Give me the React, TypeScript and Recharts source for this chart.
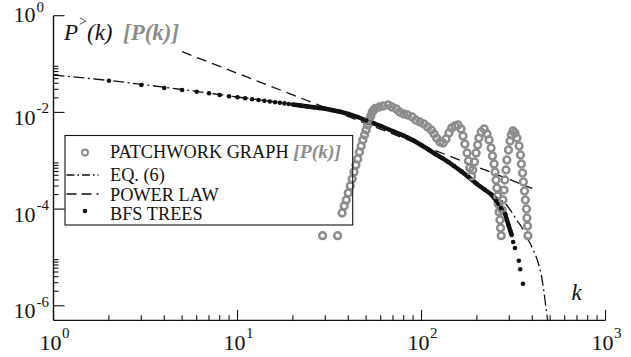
import React from 'react'
import { ComposedChart, Line, Scatter, XAxis, YAxis } from 'recharts'

// patchwork graph, P(k) (grey open circles)
const patchK = [29, 35, 37, 38, 39, 40, 41, 42, 43, 44, 45, 46, 47, 48, 49, 50, 51, 52, 53, 54, 55, 56,
  59, 62, 66, 69, 73, 76, 80, 84, 89, 93, 98, 103, 108, 113, 117, 121, 126, 131, 136, 141, 146, 152, 158,
  164, 168, 172, 177, 180, 183, 187, 190, 194, 198, 202, 205, 211, 219,
  227, 233, 239, 243, 248, 251, 254, 257, 259, 261, 264, 267, 269, 271,
  274, 277, 281, 284, 288, 291, 297, 303, 308, 314,
  322, 330, 339, 345, 349, 354, 358, 363, 367, 372, 374, 377, 379]
const patchP = [2.82e-5, 2.82e-5, 8.3e-5, 1.159e-4, 1.542e-4, 2.153e-4, 3.004e-4, 4.195e-4, 5.855e-4, 8.17e-4,
  1.087e-3, 1.517e-3, 2.019e-3, 2.687e-3, 3.408e-3, 4.325e-3, 5.49e-3, 6.966e-3, 8.42e-3, 0.01019, 0.01121, 0.01204,
  0.01294, 0.01356, 0.01422, 0.01294, 0.01176, 0.01019, 0.00927, 0.00884, 0.00803, 0.00697, 0.00633, 0.00576,
  0.00499, 0.00433, 0.00358, 0.00295, 0.00244, 0.00233, 0.00282, 0.00375, 0.00476, 0.00523, 0.00549,
  0.00454, 0.00325, 0.00222, 0.001446, 0.000988, 0.000708, 0.000484, 0.000644, 0.000942, 0.001446, 0.002117,
  0.00295, 0.00393, 0.00454,
  0.00358, 0.00269, 0.001835, 0.001254, 0.000857, 0.000585, 0.0004, 0.000273, 0.000187, 0.0001275, 0.0000871,
  0.0000595, 0.0000406, 0.0000282,
  0.0000958, 0.0001542, 0.000248, 0.0004, 0.000644, 0.001036, 0.001669, 0.002561, 0.00341, 0.00412,
  0.00375, 0.00295, 0.002018, 0.001315, 0.000857, 0.000558, 0.000364, 0.000237, 0.0001542, 0.0001005,
  0.0000654, 0.0000447, 0.0000282]

// BFS trees, cumulative P>(k)
const bfsK = [2, 3, 4, 5, 6, 7, 8, 9, 10, 11, 12, 13, 14, 15, 16, 17, 18, 19, 20, 22, 24, 26, 28, 30, 33, 36,
  40, 45, 50, 55, 60, 70, 80, 90, 100, 110, 120, 130, 140, 150, 165, 180, 200, 220, 240, 255, 270, 285, 291,
  297, 303, 309, 315, 322, 338, 344, 356]
const bfsP = [0.04523, 0.03686, 0.03196, 0.02906, 0.0268, 0.02483, 0.02291, 0.02153, 0.02052, 0.01957, 0.01875,
  0.01805, 0.01738, 0.01681, 0.01626, 0.0158, 0.01535, 0.01492, 0.01457, 0.01389, 0.0133, 0.01281, 0.01233,
  0.01187, 0.0111, 0.01034, 0.00927, 0.00803, 0.0068, 0.00595, 0.00523, 0.00408, 0.0033, 0.00266, 0.00209,
  0.00167, 0.001347, 0.001129, 0.000942, 0.000779, 0.000599, 0.000461, 0.00033, 0.000254, 0.0002, 0.000147,
  0.0001054, 0.0000792, 0.0000595, 0.0000469, 0.00003695, 0.00002912, 0.00002087, 0.00001568, 0.00000857,
  0.00000569, 0.00000286]

// Eq. (6)
const eqK = [1, 2, 5, 10, 20, 30, 50, 70, 100, 150, 200, 250, 290, 309, 329, 350, 373, 405, 431, 450, 469, 479, 485]
const eqP = [0.0594, 0.04568, 0.02976, 0.02082, 0.01471, 0.01187, 0.0068, 0.00412, 0.002117, 0.000797, 0.000347,
  0.000187, 0.0001216, 0.0000871, 0.0000595, 0.0000426, 0.0000265, 0.00001426, 0.00000768, 0.00000394,
  0.000001318, 0.00000071, 0.0000005]

// power law
const plK = [5, 400]
const plP = [0.18, 0.000268]

const xTicks = [1, 2, 3, 4, 5, 6, 7, 8, 9, 10, 20, 30, 40, 50, 60, 70, 80, 90, 100,
  200, 300, 400, 500, 600, 700, 800, 900, 1000]
const yTicks = [1, 0.09, 0.08, 0.07, 0.06, 0.05, 0.04, 0.03, 0.02, 0.01,
  0.0009, 0.0008, 0.0007, 0.0006, 0.0005, 0.0004, 0.0003, 0.0002, 0.0001,
  0.000009, 0.000008, 0.000007, 0.000006, 0.000005, 0.000004, 0.000003, 0.000002, 0.000001]

const toRows = (ks: number[], ps: number[]) => ks.map((k, i) => ({ k, p: ps[i] }))

const patchData = toRows(patchK, patchP)
const bfsData = toRows(bfsK, bfsP)
const bfsDense = bfsData.filter((d) => d.k >= 20 && d.k <= 309)
const eqData = toRows(eqK, eqP)
const plData = toRows(plK, plP)

const FONT = '"Liberation Serif", "Times New Roman", serif'
const GREY = '#8c8c8c'
const INK = '#111'

const isMajor = (v: number) => {
  const l = Math.log10(v)
  return Math.abs(l - Math.round(l)) < 1e-6
}

const XTick = (props: any) => {
  const { x, y, payload } = props
  const major = isMajor(payload.value)
  const e = Math.round(Math.log10(payload.value))
  return (
    <g>
      <line x1={x} x2={x} y1={y} y2={y - (major ? 10.5 : 5)} stroke={INK} strokeWidth={1.1} />
      {major && (
        <g style={{ fontFamily: FONT }} fill={INK}>
          <text x={x - 3} y={y + 29.5} fontSize={22} textAnchor="middle">10</text>
          <text x={x + 8.5} y={y + 18} fontSize={15}>{e}</text>
        </g>
      )}
    </g>
  )
}

const YTick = (props: any) => {
  const { x, y, payload } = props
  const major = isMajor(payload.value)
  const e = Math.round(Math.log10(payload.value))
  const top = e === 0
  return (
    <g>
      <line x1={x} x2={x + (major ? 11 : 5)} y1={y} y2={y} stroke={INK} strokeWidth={1.1} />
      {major && e % 2 === 0 && (
        <g style={{ fontFamily: FONT }} fill={INK}>
          <text x={x - 18} y={y + (top ? 6 : 12.5)} fontSize={22} textAnchor="end">10</text>
          <text x={x - 17} y={y + (top ? -3.5 : 1)} fontSize={15}>{e === 0 ? '0' : `-${Math.abs(e)}`}</text>
        </g>
      )}
    </g>
  )
}

const OpenCircle = (props: any) => (
  <circle cx={props.cx} cy={props.cy} r={3.4} fill="none" stroke={GREY} strokeWidth={2.5} />
)

const Dot = (props: any) => <circle cx={props.cx} cy={props.cy} r={2.3} fill={INK} />

const EQ_DASH = '11 3.5 2 3.5'
const PL_DASH = '10 6'

export default function App() {
  return (
    <div style={{ position: 'absolute', left: 0, top: 0, width: 631, height: 357, background: '#fff' }}>
      <ComposedChart width={631} height={357} margin={{ top: 15.7, right: 25.5, bottom: 6.65, left: 13.5 }}>
        <XAxis
          dataKey="k"
          type="number"
          scale="log"
          domain={[1, 1000]}
          allowDataOverflow
          ticks={xTicks}
          interval={0}
          tick={<XTick />}
          tickLine={false}
          tickSize={0}
          tickMargin={0}
          height={30}
          axisLine={{ stroke: INK, strokeWidth: 1.4 }}
        />
        <YAxis
          dataKey="p"
          type="number"
          scale="log"
          domain={[5e-7, 1]}
          allowDataOverflow
          ticks={yTicks}
          interval={0}
          tick={<YTick />}
          tickLine={false}
          tickSize={0}
          tickMargin={0}
          width={40}
          axisLine={{ stroke: INK, strokeWidth: 1.4 }}
        />
        <Scatter data={patchData} shape={OpenCircle} isAnimationActive={false} />
        <Line data={bfsDense} dataKey="p" type="linear" stroke={INK} strokeWidth={4.5} dot={false}
          activeDot={false} isAnimationActive={false} />
        <Scatter data={bfsData} shape={Dot} isAnimationActive={false} />
        <Line data={plData} dataKey="p" type="linear" stroke={INK} strokeWidth={1.3} strokeDasharray={PL_DASH}
          dot={false} activeDot={false} isAnimationActive={false} />
        <Line data={eqData} dataKey="p" type="monotone" stroke={INK} strokeWidth={1.3} strokeDasharray={EQ_DASH}
          dot={false} activeDot={false} isAnimationActive={false} />
      </ComposedChart>

      <svg width={631} height={357} style={{ position: 'absolute', left: 0, top: 0, pointerEvents: 'none', fontFamily: FONT }}>
        {/* axis titles */}
        <text x={64} y={40} fontSize={23} fill={INK} fontStyle="italic">P</text>
        <text x={79} y={26} fontSize={14} fill={INK}>&gt;</text>
        <text x={87} y={40} fontSize={23} fill={INK} fontStyle="italic">(k)</text>
        <text x={123} y={40} fontSize={23} fill={GREY} fontStyle="italic" fontWeight="bold">[P(k)]</text>
        <text x={571.5} y={300} fontSize={23} fill={INK} fontStyle="italic">k</text>

        {/* legend */}
        <rect x={65} y={135.5} width={287.7} height={89.5} fill="none" stroke={INK} strokeWidth={1.1} />
        <circle cx={85} cy={152.5} r={3} fill="none" stroke={GREY} strokeWidth={2} />
        <text x={110} y={158} fontSize={18.3} fill={INK}>
          PATCHWORK GRAPH{' '}
          <tspan fill={GREY} fontStyle="italic" fontWeight="bold" fontSize={19.6}>[P(k)]</tspan>
        </text>
        <line x1={66.5} x2={98.5} y1={175} y2={175} stroke={INK} strokeWidth={1.3} strokeDasharray="8 3 1.5 3" />
        <text x={110} y={181} fontSize={18.3} fill={INK}>EQ. (6)</text>
        <line x1={66.5} x2={98.5} y1={194} y2={194} stroke={INK} strokeWidth={1.3} strokeDasharray="10 5" />
        <text x={110} y={201} fontSize={18.3} fill={INK}>POWER LAW</text>
        <circle cx={85} cy={211} r={2.3} fill={INK} />
        <text x={110} y={220} fontSize={18.3} fill={INK}>BFS TREES</text>
      </svg>
    </div>
  )
}
